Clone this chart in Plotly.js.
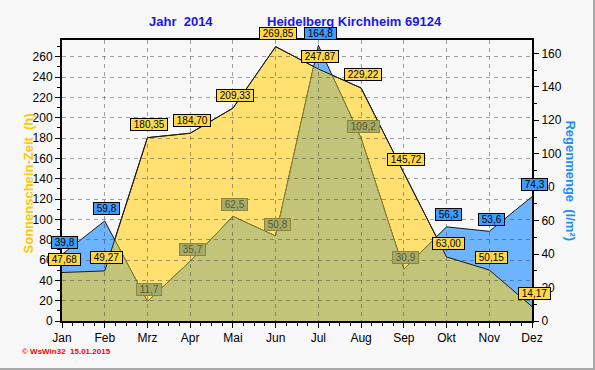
<!DOCTYPE html>
<html>
<head>
<meta charset="utf-8">
<script src="https://cdn.plot.ly/plotly-3.0.1.min.js"></script>
<style>
  html, body { margin: 0; padding: 0; background: #F8F8F8; }
  #wrap { position: relative; width: 595px; height: 370px; }
  #chart { width: 595px; height: 370px; }
  #frame { position: absolute; left: 0; top: 0; width: 593px; height: 368px;
           border-right: 2px solid #A8A8A8; border-bottom: 2px solid #A8A8A8; pointer-events: none; }
</style>
</head>
<body>
<div id="wrap"><div id="chart"></div><div id="frame"></div></div>
<script>
// ---- data ----
const months = ['Jan','Feb','Mrz','Apr','Mai','Jun','Jul','Aug','Sep','Okt','Nov','Dez'];
const sunshine = [47.68, 49.27, 180.35, 184.70, 209.33, 269.85, 247.87, 229.22, 145.72, 63.00, 50.15, 14.17];
const rain = [39.8, 59.8, 11.7, 35.7, 62.5, 50.8, 164.8, 109.2, 30.9, 56.3, 53.6, 74.3];
const leftTitle = 'Sonnenschein-Zeit  (h)';
const rightTitle = 'Regenmenge  (l/m²)';
const titleLeft = 'Jahr  2014';
const titleRight = 'Heidelberg Kirchheim 69124';
const footer = '© WsWin32  15.01.2015';

const Y1MAX = 276.4, Y2MAX = 168;
const xi = months.map((m, i) => i);

const YELLOW = '#FFE070', BLUE = '#6CB4FF', OLIVE = '#C2C47A';
const FONT = 'Arial, "Liberation Sans", sans-serif';

const traces = [
  { uid: 'sun', x: xi, y: sunshine, yaxis: 'y', type: 'scatter', mode: 'lines',
    fill: 'tozeroy', fillcolor: YELLOW, line: { color: '#1a1a1a', width: 1 }, hoverinfo: 'skip' },
  { uid: 'rain', x: xi, y: rain, yaxis: 'y2', type: 'scatter', mode: 'lines',
    fill: 'tozeroy', fillcolor: BLUE, line: { color: '#1a1a1a', width: 1 }, hoverinfo: 'skip' },
  { uid: 'overlap', x: xi, y: rain, yaxis: 'y2', type: 'scatter', mode: 'lines',
    fill: 'tozeroy', fillcolor: OLIVE, line: { color: '#8C8230', width: 1 }, hoverinfo: 'skip' },
  { uid: 'sunline', x: xi, y: sunshine, yaxis: 'y3', type: 'scatter', mode: 'lines',
    line: { color: '#1a1a1a', width: 1 }, hoverinfo: 'skip' }
];

const NB = '\u00a0';
const fmt = (v, d) => NB + v.toFixed(d).replace('.', ',') + NB;
const annotations = [];
sunshine.forEach((v, i) => {
  annotations.push({ x: i, y: v, xref: 'x', yref: 'y', text: fmt(v, 2), showarrow: false,
    xanchor: 'center', yanchor: 'middle',
    yshift: 13, xshift: 2, bgcolor: '#FFD84A', bordercolor: '#000', borderwidth: 1, borderpad: 0,
    font: { family: FONT, size: 10, color: '#000' } });
});
rain.forEach((v, i) => {
  const inside = v * (Y1MAX / Y2MAX) < sunshine[i];
  annotations.push({ x: i, y: v, xref: 'x', yref: 'y2', text: fmt(v, 1), showarrow: false,
    xanchor: 'center', yanchor: 'middle',
    yshift: 12, xshift: 2,
    bgcolor: inside ? '#A4AA6C' : '#3C9CFF', bordercolor: inside ? '#8C8638' : '#000',
    borderwidth: 1, borderpad: 0,
    font: { family: FONT, size: 10, color: inside ? '#5E5A22' : '#000' } });
});
annotations.push(
  { xref: 'paper', yref: 'paper', x: 0.253, y: 1.066, xanchor: 'center', yanchor: 'middle',
    text: '<b>' + titleLeft + '</b>', showarrow: false,
    font: { family: FONT, size: 13, color: '#1818E8' } },
  { xref: 'paper', yref: 'paper', x: 0.623, y: 1.066, xanchor: 'center', yanchor: 'middle',
    text: '<b>' + titleRight + '</b>', showarrow: false,
    font: { family: FONT, size: 13, color: '#1818E8' } },
  { xref: 'paper', yref: 'paper', x: -0.072, y: 0.49, xanchor: 'center', yanchor: 'middle',
    text: '<b>' + leftTitle + '</b>', showarrow: false,
    textangle: -90, font: { family: FONT, size: 13, color: '#FFC800' } },
  { xref: 'paper', yref: 'paper', x: 1.081, y: 0.50, xanchor: 'center', yanchor: 'middle',
    text: '<b>' + rightTitle + '</b>', showarrow: false,
    textangle: 90, font: { family: FONT, size: 13, color: '#1E8CFF' } },
  { xref: 'paper', yref: 'paper', x: -0.089, y: -0.107, xanchor: 'left', yanchor: 'middle',
    text: '<b>' + footer + '</b>',
    showarrow: false, font: { family: FONT, size: 8, color: '#FF0000' } }
);

const gridc = 'rgba(70,70,70,0.5)';
const layout = {
  width: 595, height: 370,
  margin: { l: 62, r: 63, t: 40, b: 49, pad: 0 },
  paper_bgcolor: '#F8F8F8', plot_bgcolor: '#F8F8F8',
  showlegend: false,
  font: { family: FONT, size: 12, color: '#000' },
  xaxis: { range: [0, 11], tickvals: xi, ticktext: months, showgrid: true, gridcolor: gridc,
    griddash: '4px,4px', gridwidth: 1, showline: true, linecolor: '#000', linewidth: 2, mirror: true,
    ticks: 'outside', ticklen: 5, tickcolor: '#000', zeroline: false,
    minor: { dtick: 0.25, ticks: 'outside', ticklen: 3, tickcolor: '#000', showgrid: false },
    tickfont: { family: FONT, size: 12, color: '#000' } },
  yaxis: { range: [0, Y1MAX], dtick: 20, tick0: 0, showgrid: true, gridcolor: gridc, griddash: '4px,4px',
    gridwidth: 1, showline: true, linecolor: '#000', linewidth: 2, ticks: 'outside', ticklen: 5,
    tickcolor: '#000', zeroline: false,
    minor: { dtick: 10, ticks: 'outside', ticklen: 3, tickcolor: '#000', showgrid: false },
    tickfont: { family: FONT, size: 12, color: '#000' } },
  yaxis2: { range: [0, Y2MAX], dtick: 20, tick0: 0, overlaying: 'y', side: 'right', showgrid: false,
    showline: true, linecolor: '#000', linewidth: 2, ticks: 'outside', ticklen: 5, tickcolor: '#000',
    zeroline: false, minor: { dtick: 10, ticks: 'outside', ticklen: 3, tickcolor: '#000', showgrid: false },
    tickfont: { family: FONT, size: 12, color: '#000' } },
  yaxis3: { range: [0, Y1MAX], overlaying: 'y', visible: false, showgrid: false, zeroline: false },
  annotations: annotations
};

const gd = document.getElementById('chart');
Plotly.newPlot(gd, traces, layout, { staticPlot: true, displayModeBar: false }).then(function () {
  const ns = 'http://www.w3.org/2000/svg';
  const svg = gd.querySelector('.main-svg');
  let defs = svg.querySelector('defs');
  if (!defs) { defs = document.createElementNS(ns, 'defs'); svg.insertBefore(defs, svg.firstChild); }
  const sunFill = gd.querySelector('.tracesun .js-fill');
  const overlapG = gd.querySelector('.traceoverlap');
  if (sunFill && overlapG) {
    const cp = document.createElementNS(ns, 'clipPath');
    cp.setAttribute('id', 'sunclip');
    const p = document.createElementNS(ns, 'path');
    p.setAttribute('d', sunFill.getAttribute('d'));
    cp.appendChild(p);
    defs.appendChild(cp);
    overlapG.setAttribute('clip-path', 'url(#sunclip)');
  }
  const sub = gd.querySelector('.subplot.xy');
  if (sub) {
    const grid = sub.querySelector('.gridlayer');
    const above = sub.querySelector('.xlines-above');
    if (grid) { if (above) sub.insertBefore(grid, above); else sub.appendChild(grid); }
  }
});
</script>
</body>
</html>
